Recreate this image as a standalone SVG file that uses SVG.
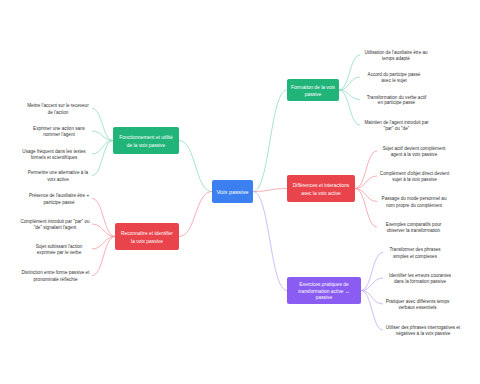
<svg xmlns="http://www.w3.org/2000/svg" width="480" height="384" viewBox="0 0 480 384">
<style>
.leaf{font-family:"Liberation Sans",Arial,sans-serif;font-size:4.6px;fill:#333;text-anchor:middle}
.nt{font-family:"Liberation Sans",Arial,sans-serif;font-size:4.9px;fill:#fff;text-anchor:middle}
.ct{font-family:"Liberation Sans",Arial,sans-serif;font-size:5.8px;fill:#fff;text-anchor:middle}
.cg{fill:none;stroke:#8fdcba;stroke-width:0.8}
.cr{fill:none;stroke:#f49ba2;stroke-width:0.8}
.cp{fill:none;stroke:#c3acf8;stroke-width:0.8}
</style>
<rect width="480" height="384" fill="#fff"/>
<g id="connectors">
<path class="cg" d="M212,191.5 C195,191.5 196,140.5 179,140.5"/>
<path class="cr" d="M212,191.5 C195,191.5 196,236.5 179,236.5"/>
<path class="cg" d="M253,191.5 C270,191.5 270,90 287,90"/>
<path class="cr" d="M253,191.5 C270,191.5 270,188.5 287,188.5"/>
<path class="cp" d="M253,191.5 C270,191.5 270,290.5 287,290.5"/>
<path class="cg" d="M113,140.5 C102.5,140.5 102.5,108.5 92,108.5"/>
<path class="cg" d="M113,140.5 C102.5,140.5 102.5,131 92,131"/>
<path class="cg" d="M113,140.5 C102.5,140.5 102.5,154 92,154"/>
<path class="cg" d="M113,140.5 C102.5,140.5 102.5,175.5 92,175.5"/>
<path class="cr" d="M115,236.5 C103.5,236.5 103.5,198.5 92,198.5"/>
<path class="cr" d="M115,236.5 C103.5,236.5 103.5,224 92,224"/>
<path class="cr" d="M115,236.5 C103.5,236.5 103.5,249 92,249"/>
<path class="cr" d="M115,236.5 C103.5,236.5 103.5,275.5 92,275.5"/>
<path class="cg" d="M339,90 C349.5,90 349.5,55 360,55"/>
<path class="cg" d="M339,90 C349.5,90 349.5,77 360,77"/>
<path class="cg" d="M339,90 C349.5,90 349.5,99.5 360,99.5"/>
<path class="cg" d="M339,90 C349.5,90 349.5,125 360,125"/>
<path class="cr" d="M355,188.5 C366,188.5 366,151 377,151"/>
<path class="cr" d="M355,188.5 C366,188.5 366,176 377,176"/>
<path class="cr" d="M355,188.5 C366,188.5 366,201.5 377,201.5"/>
<path class="cr" d="M355,188.5 C366,188.5 366,227 377,227"/>
<path class="cp" d="M361,290.5 C372,290.5 372,252.5 383,252.5"/>
<path class="cp" d="M361,290.5 C372,290.5 372,278 383,278"/>
<path class="cp" d="M361,290.5 C372,290.5 372,304 383,304"/>
<path class="cp" d="M361,290.5 C372,290.5 372,330 383,330"/>
</g>
<g id="root">
<rect x="212" y="180" width="41" height="23" rx="2" fill="#3b7ff0"/>
<text class="ct" x="232.5" y="193.5">Voix passive</text>
</g>
<g id="n-fonctionnement">
<rect x="113" y="127" width="66" height="27" rx="2" fill="#21b478"/>
<text class="nt" x="146" y="139">Fonctionnement et utilité</text>
<text class="nt" x="146" y="146.5">de la voix passive</text>
</g>
<g id="n-reconnaitre">
<rect x="115" y="223" width="64" height="27" rx="2" fill="#e9434b"/>
<text class="nt" x="147" y="235">Reconnaître et identifier</text>
<text class="nt" x="147" y="242.5">la voix passive</text>
</g>
<g id="n-formation">
<rect x="287" y="79" width="52" height="22" rx="2" fill="#21b478"/>
<text class="nt" x="313" y="88.5">Formation de la voix</text>
<text class="nt" x="313" y="96">passive</text>
</g>
<g id="n-differences">
<rect x="287" y="175" width="68" height="27" rx="2" fill="#e9434b"/>
<text class="nt" x="321" y="187">Différences et interactions</text>
<text class="nt" x="321" y="194.5">avec la voix active</text>
</g>
<g id="n-exercices">
<rect x="287" y="277" width="74" height="27" rx="2" fill="#8b5cf2"/>
<text class="nt" x="324" y="286">Exercices pratiques de</text>
<text class="nt" x="324" y="292.5">transformation active ↔</text>
<text class="nt" x="324" y="299">passive</text>
</g>
<g id="l1"><text class="leaf" x="58" y="106.5">Mettre l'accent sur le receveur</text><text class="leaf" x="58" y="113.5">de l'action</text></g>
<g id="l2"><text class="leaf" x="59" y="129.5">Exprimer une action sans</text><text class="leaf" x="59" y="136">nommer l'agent</text></g>
<g id="l3"><text class="leaf" x="54" y="152.5">Usage fréquent dans les textes</text><text class="leaf" x="54" y="159">formels et scientifiques</text></g>
<g id="l4"><text class="leaf" x="58" y="174">Permettre une alternative à la</text><text class="leaf" x="58" y="180.5">voix active</text></g>
<g id="l5"><text class="leaf" x="59" y="196.5">Présence de l'auxiliaire être +</text><text class="leaf" x="59" y="203.5">participe passé</text></g>
<g id="l6"><text class="leaf" x="55" y="222.5">Complément introduit par "par" ou</text><text class="leaf" x="55" y="229">"de" signalant l'agent</text></g>
<g id="l7"><text class="leaf" x="59" y="247.5">Sujet subissant l'action</text><text class="leaf" x="59" y="254">exprimée par le verbe</text></g>
<g id="l8"><text class="leaf" x="55.5" y="273.5">Distinction entre forme passive et</text><text class="leaf" x="55.5" y="280.5">pronominale réfléchie</text></g>
<g id="r1"><text class="leaf" x="396" y="53.5">Utilisation de l'auxiliaire être au</text><text class="leaf" x="396" y="60">temps adapté</text></g>
<g id="r2"><text class="leaf" x="394" y="75.5">Accord du participe passé</text><text class="leaf" x="394" y="82">avec le sujet</text></g>
<g id="r3"><text class="leaf" x="396.5" y="98.5">Transformation du verbe actif</text><text class="leaf" x="396.5" y="104">en participe passé</text></g>
<g id="r4"><text class="leaf" x="396.5" y="123.5">Maintien de l'agent introduit par</text><text class="leaf" x="396.5" y="130">"par" ou "de"</text></g>
<g id="r5"><text class="leaf" x="414" y="149.5">Sujet actif devient complément</text><text class="leaf" x="414" y="156">agent à la voix passive</text></g>
<g id="r6"><text class="leaf" x="414.5" y="174.5">Complément d'objet direct devient</text><text class="leaf" x="414.5" y="181">sujet à la voix passive</text></g>
<g id="r7"><text class="leaf" x="414" y="199.5">Passage du mode personnel au</text><text class="leaf" x="414" y="206.5">nom propre du complément</text></g>
<g id="r8"><text class="leaf" x="413.5" y="225.5">Exemples comparatifs pour</text><text class="leaf" x="413.5" y="232">observer la transformation</text></g>
<g id="r9"><text class="leaf" x="415" y="250.5">Transformer des phrases</text><text class="leaf" x="415" y="257.5">simples et complexes</text></g>
<g id="r10"><text class="leaf" x="420" y="276.5">Identifier les erreurs courantes</text><text class="leaf" x="420" y="283">dans la formation passive</text></g>
<g id="r11"><text class="leaf" x="417.5" y="302.5">Pratiquer avec différents temps</text><text class="leaf" x="417.5" y="309">verbaux essentiels</text></g>
<g id="r12"><text class="leaf" x="423" y="328.5">Utiliser des phrases interrogatives et</text><text class="leaf" x="423" y="335">négatives à la voix passive</text></g>
</svg>
